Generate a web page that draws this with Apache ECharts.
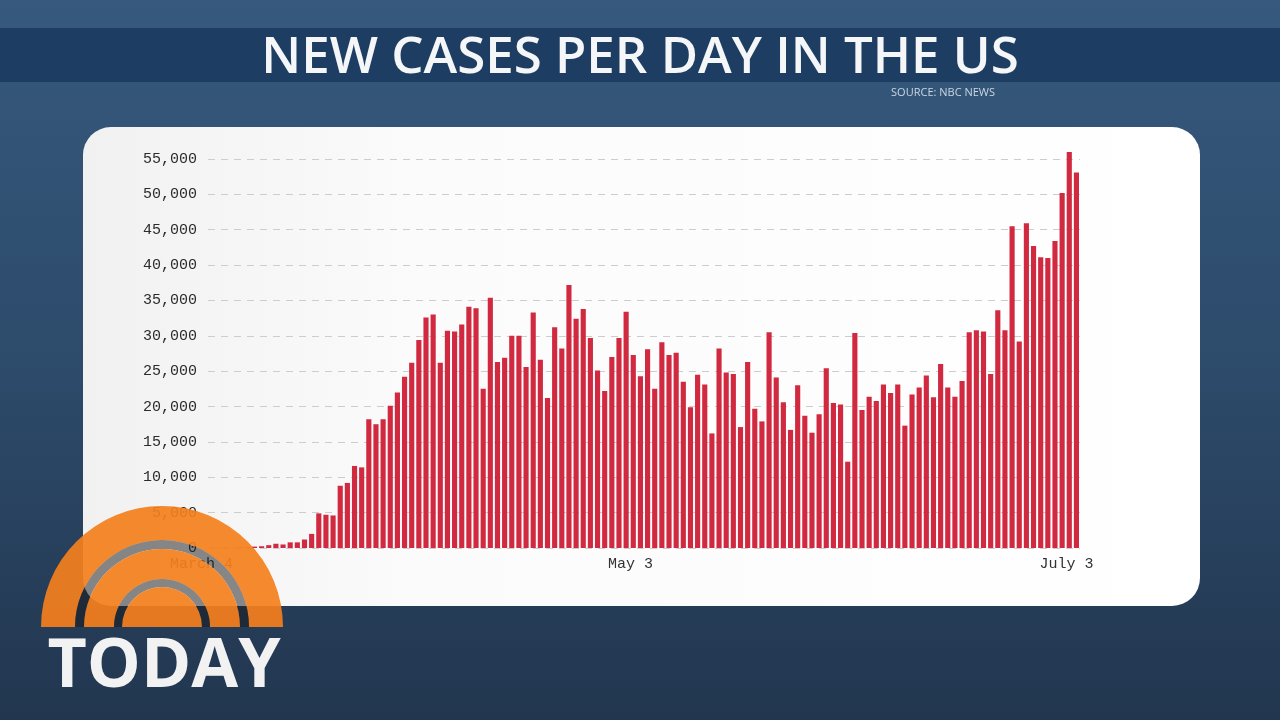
<!DOCTYPE html>
<html>
<head>
<meta charset="utf-8">
<title>New cases per day in the US</title>
<script src="https://cdn.jsdelivr.net/npm/echarts@6/dist/echarts.min.js"></script>
<style>
  html, body { margin: 0; padding: 0; background: #2c4868; }
  #main { width: 1280px; height: 720px; }
</style>
</head>
<body>
<div id="main"></div>
<script>
// daily new cases (March 4 .. July 3)
const marchCases = [20, 30, 40, 50, 70, 100, 200, 250, 400, 600, 500, 800, 800, 1200,
  2000, 4900, 4700, 4600, 8800, 9200, 11600, 11400, 18200, 17500, 18200, 20100, 22000, 24200]
const aprilCases = [26200, 29400, 32600, 33000, 26200, 30700, 30600, 31600, 34100, 33900,
  22500, 35400, 26300, 26900, 30000, 30000, 25600, 33300, 26600, 21200,
  31200, 28200, 37200, 32400, 33800, 29700, 25100, 22200, 27000, 29700]
const mayCases = [33400, 27300, 24300, 28100, 22500, 29100, 27300, 27600, 23500, 19900,
  24500, 23100, 16200, 28200, 24800, 24600, 17100, 26300, 19700, 17900,
  30500, 24100, 20600, 16700, 23000, 18700, 16300, 18900, 25400, 20500, 20300]
const juneCases = [12200, 30400, 19500, 21400, 20800, 23100, 21900, 23100, 17300, 21700,
  22700, 24400, 21300, 26000, 22700, 21400, 23600, 30500, 30800, 30600,
  24600, 33600, 30800, 45500, 29200, 45900, 42700, 41100, 41000, 43400]
const julyCases = [50200, 56000, 53100]

const months = [
  { name: 'March', firstDay: 4, values: marchCases },
  { name: 'April', firstDay: 1, values: aprilCases },
  { name: 'May', firstDay: 1, values: mayCases },
  { name: 'June', firstDay: 1, values: juneCases },
  { name: 'July', firstDay: 1, values: julyCases }
]
const tickLabels = ['March 4', 'May 3', 'July 3']
const yTicks = { min: 0, max: 55000, step: 5000 }

const days = []
const cases = []
months.forEach(m => {
  m.values.forEach((v, i) => {
    days.push(m.name + ' ' + (m.firstDay + i))
    cases.push(v)
  })
})

const chart = echarts.init(document.getElementById('main'))

const ORANGE = '#f47f1c'
const logoCx = 162
const logoCy = 627
const arc = (r0, r, fill) => ({
  type: 'sector',
  z: 100,
  shape: { cx: logoCx, cy: logoCy, r0: r0, r: r, startAngle: Math.PI, endAngle: Math.PI * 2 },
  style: { fill: fill, opacity: 0.92 },
  silent: true
})

chart.setOption({
  animation: false,
  backgroundColor: new echarts.graphic.LinearGradient(0, 0, 0, 1, [
    { offset: 0, color: '#36597d' },
    { offset: 0.5, color: '#2d4b6b' },
    { offset: 1, color: '#22364f' }
  ]),
  grid: { left: 208, right: 200, top: 159, bottom: 172 },
  xAxis: {
    type: 'category',
    data: days,
    axisLine: { show: false },
    axisTick: { show: false },
    axisLabel: {
      interval: (i, v) => tickLabels.includes(v),
      color: '#333',
      fontFamily: 'Liberation Mono',
      fontSize: 15,
      margin: 9,
      padding: [0, 20, 0, 0]
    }
  },
  yAxis: {
    type: 'value',
    min: yTicks.min,
    max: yTicks.max,
    interval: yTicks.step,
    axisLine: { show: false },
    axisTick: { show: false },
    axisLabel: {
      color: '#2b2b2b',
      fontFamily: 'Liberation Mono',
      fontSize: 15,
      margin: 11,
      formatter: v => v.toLocaleString('en-US')
    },
    splitLine: {
      lineStyle: { color: '#cdcdcd', type: [7, 6], width: 1 }
    }
  },
  series: [
    {
      name: 'New cases',
      type: 'bar',
      data: cases,
      clip: false,
      barCategoryGap: '28%',
      itemStyle: { color: '#d12a40' }
    }
  ],
  graphic: [
    // title band
    {
      type: 'rect', z: -10, silent: true,
      shape: { x: 0, y: 28, width: 1280, height: 54 },
      style: { fill: '#1e3d63' }
    },
    {
      type: 'text', z: -9, silent: true,
      x: 640, y: 58,
      style: {
        text: 'NEW CASES PER DAY IN THE US',
        fill: '#f4f6f8',
        font: '600 51px "Open Sans"',
        textAlign: 'center',
        textVerticalAlign: 'middle'
      }
    },
    {
      type: 'text', z: -9, silent: true,
      x: 995, y: 93,
      style: {
        text: 'SOURCE: NBC NEWS',
        fill: '#c9d6e3',
        font: '11px "Open Sans"',
        textAlign: 'right',
        textVerticalAlign: 'middle'
      }
    },
    // white card behind the plot
    {
      type: 'rect', z: -10, silent: true,
      shape: { x: 83, y: 127, width: 1117, height: 479, r: 28 },
      style: {
        fill: new echarts.graphic.LinearGradient(0, 0, 1, 0, [
          { offset: 0, color: '#f1f1f1' },
          { offset: 0.3, color: '#fbfbfb' },
          { offset: 1, color: '#ffffff' }
        ])
      }
    },
    // TODAY logo
    arc(87, 121, ORANGE),
    arc(78, 87, 'rgba(25,25,25,0.55)'),
    arc(48, 78, ORANGE),
    arc(40, 48, 'rgba(25,25,25,0.55)'),
    arc(0, 40, ORANGE),
    {
      type: 'text', z: 100, silent: true,
      x: 164, y: 668,
      style: {
        text: 'TODAY',
        fill: '#f2f2f2',
        font: 'bold 68px "Open Sans"',
        textAlign: 'center',
        textVerticalAlign: 'middle'
      }
    }
  ]
})
</script>
</body>
</html>
